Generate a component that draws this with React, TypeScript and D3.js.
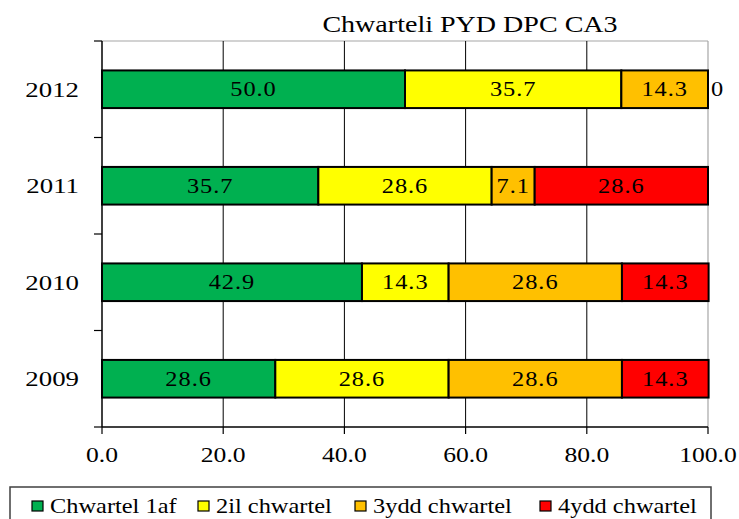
import React from "react";
import * as d3 from "d3";

const years = ["2012", "2011", "2010", "2009"];
const seriesNames = ["Chwartel 1af", "2il chwartel", "3ydd chwartel", "4ydd chwartel"];
const q1 = [50.0, 35.7, 42.9, 28.6];
const q2 = [35.7, 28.6, 14.3, 28.6];
const q3 = [14.3, 7.1, 28.6, 28.6];
const q4 = [0, 28.6, 14.3, 14.3];
const xTicks = [0, 20, 40, 60, 80, 100];
const title = "Chwarteli PYD DPC CA3";

const colors = ["#00B050", "#FFFF00", "#FFC000", "#FF0000"];
const legendX = [32, 198, 355, 540];

const width = 739;
const height = 519;
const margin = { top: 41, right: 31, bottom: 92, left: 102 };
const font = "Liberation Serif, Times New Roman, DejaVu Serif, serif";
const SX = 1.22;

const T = ({ x, y, size, anchor = "middle", children, spacing = 0 }: any) => (
  <text
    transform={`translate(${x},${y}) scale(${SX},1)`}
    textAnchor={anchor}
    style={{ fontFamily: font, fontSize: size, letterSpacing: spacing }}
    fill="#000"
  >
    {children}
  </text>
);

export default function App() {
  const rows = years.map((year, i) => ({
    year,
    s0: q1[i],
    s1: q2[i],
    s2: q3[i],
    s3: q4[i],
  }));
  const stack = d3.stack<any>().keys(["s0", "s1", "s2", "s3"]);
  const layers = stack(rows);

  const x = d3
    .scaleLinear()
    .domain([0, 100])
    .range([margin.left, width - margin.right]);

  const y = d3
    .scaleBand()
    .domain(years)
    .range([margin.top, height - margin.bottom])
    .paddingInner(0.61)
    .paddingOuter(0.305);

  const top = margin.top;
  const bottom = height - margin.bottom;
  const step = y.step();
  const boundaries = d3.range(years.length + 1).map((i) => top + i * step);

  return (
    <svg
      width={width}
      height={height}
      style={{ position: "absolute", left: 0, top: 0, background: "#fff" }}
    >
      {/* plot border */}
      <line x1={x(0)} x2={x(100)} y1={top} y2={top} stroke="#a6a6a6" strokeWidth={1.2} />
      <line x1={x(100)} x2={x(100)} y1={top} y2={bottom} stroke="#a6a6a6" strokeWidth={1.2} />

      {/* gridlines */}
      {xTicks
        .filter((t) => t > 0 && t < 100)
        .map((t) => (
          <line key={t} x1={x(t)} x2={x(t)} y1={top} y2={bottom} stroke="#000" strokeWidth={1} />
        ))}

      {/* bars */}
      {layers.map((layer, li) =>
        layer.map((d, i) => {
          const x0 = x(d[0]);
          const x1 = x(d[1]);
          const yy = y(years[i]) as number;
          const v = d[1] - d[0];
          return (
            <g key={`${li}-${i}`}>
              {v > 0 && (
                <rect
                  x={x0}
                  y={yy}
                  width={x1 - x0}
                  height={y.bandwidth()}
                  fill={colors[li]}
                  stroke="#000"
                  strokeWidth={2}
                />
              )}
              {v > 0 ? (
                <T x={(x0 + x1) / 2} y={yy + y.bandwidth() / 2 + 7} size={20} spacing={0.8}>
                  {v.toFixed(1)}
                </T>
              ) : (
                <T x={x1 + 3} y={yy + y.bandwidth() / 2 + 7} size={20} anchor="start">
                  {String(v)}
                </T>
              )}
            </g>
          );
        })
      )}

      {/* y axis */}
      <line x1={x(0)} x2={x(0)} y1={top} y2={bottom} stroke="#000" strokeWidth={1.5} />
      {boundaries.map((b, i) => (
        <line key={i} x1={x(0) - 8} x2={x(0)} y1={b} y2={b} stroke="#000" strokeWidth={1.2} />
      ))}
      {years.map((yr) => (
        <T key={yr} x={79} y={(y(yr) as number) + y.bandwidth() / 2 + 7.5} size={22} anchor="end">
          {yr}
        </T>
      ))}

      {/* x axis */}
      <line x1={x(0)} x2={x(100)} y1={bottom} y2={bottom} stroke="#000" strokeWidth={1.5} />
      {xTicks.map((t) => (
        <g key={t}>
          <line x1={x(t)} x2={x(t)} y1={bottom} y2={bottom + 7} stroke="#000" strokeWidth={1.2} />
          <T x={x(t)} y={bottom + 35} size={21}>
            {t.toFixed(1)}
          </T>
        </g>
      ))}

      {/* title */}
      <T x={470} y={32} size={23}>
        {title}
      </T>

      {/* legend */}
      <rect x={10} y={487} width={701} height={50} fill="#fff" stroke="#404040" strokeWidth={1.5} />
      {seriesNames.map((name, i) => (
        <g key={name}>
          <rect x={legendX[i]} y={501} width={11} height={10} fill={colors[i]} stroke="#000" strokeWidth={1.2} />
          <T x={legendX[i] + 18} y={513} size={20} anchor="start">
            {name}
          </T>
        </g>
      ))}
    </svg>
  );
}
